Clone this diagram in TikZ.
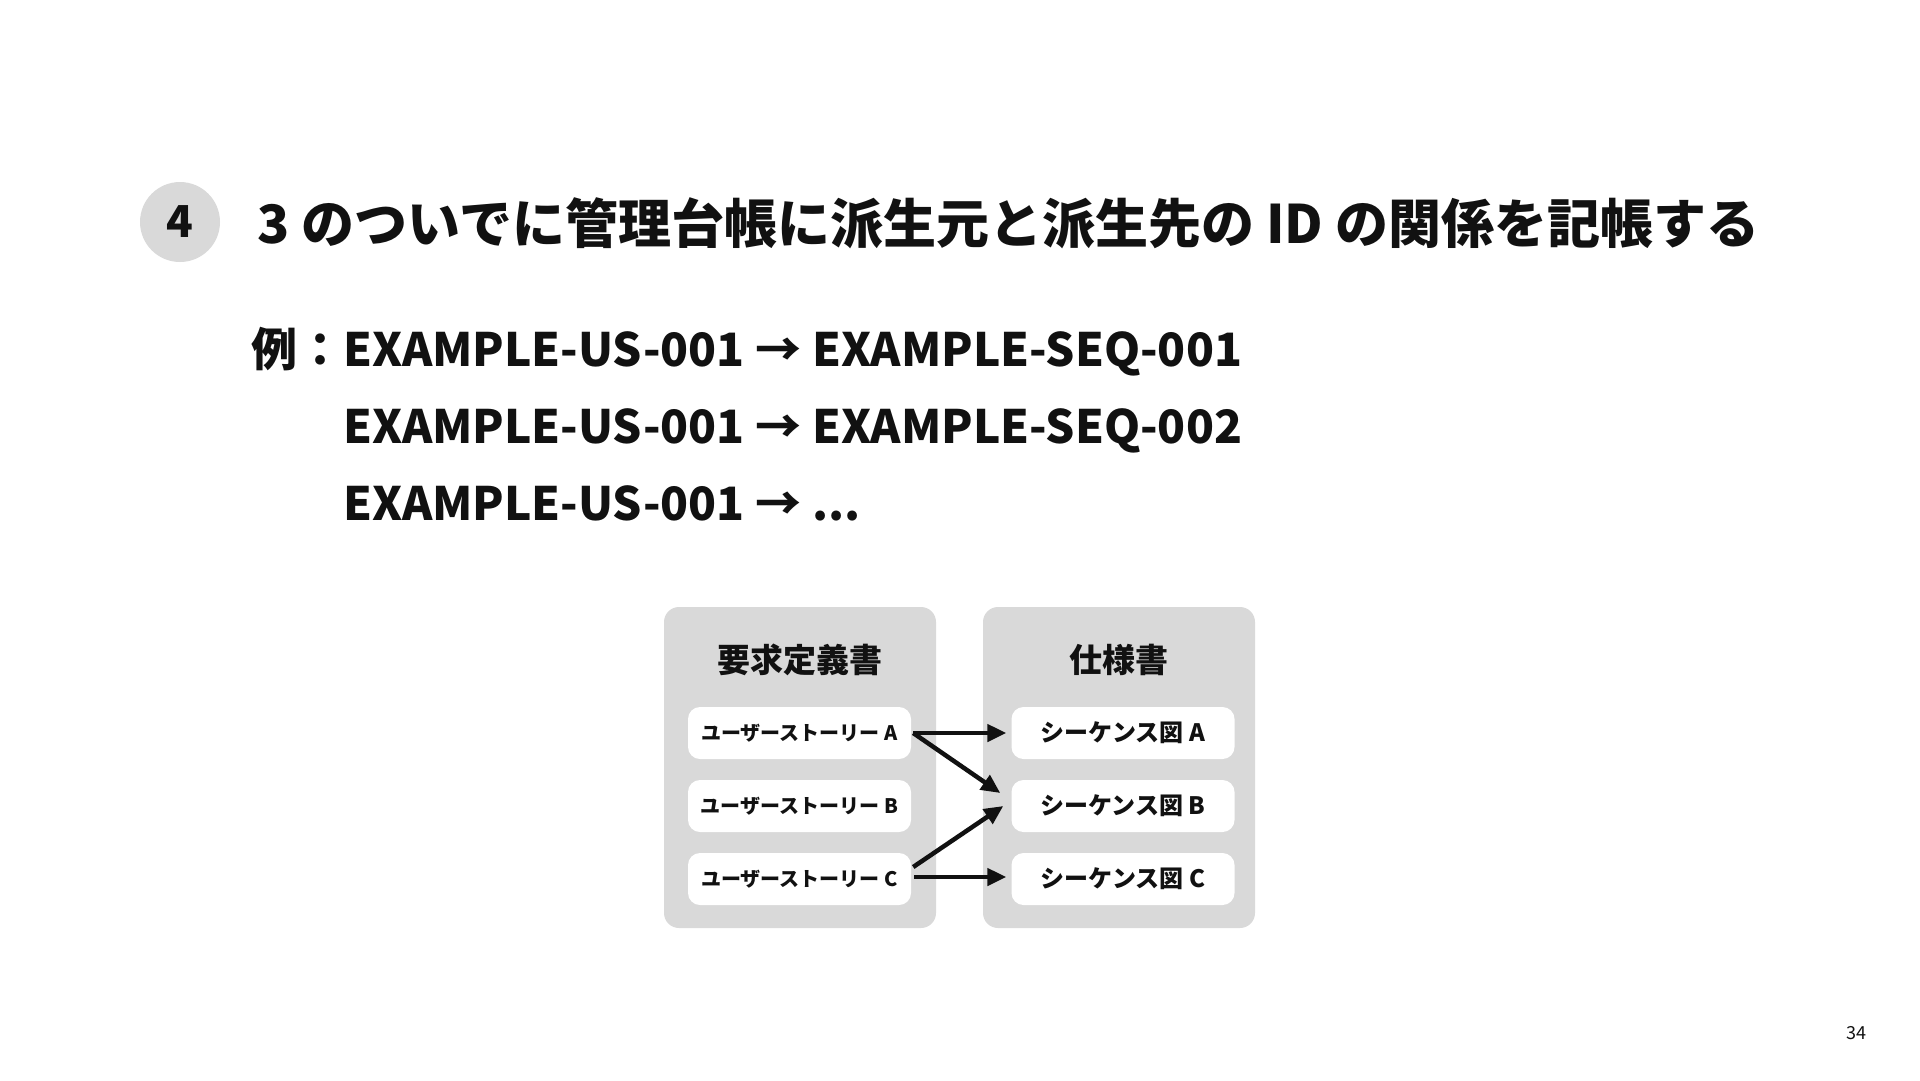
\documentclass[tikz,border=0pt]{standalone}
\usepackage{fontspec}
\setmainfont{Noto Sans CJK JP}
\usetikzlibrary{arrows.meta}
\definecolor{panelgray}{HTML}{D9D9D9}
\definecolor{ink}{HTML}{111111}

\begin{document}
\begin{tikzpicture}[x=1pt, y=-1pt,
    panel/.style={fill=panelgray, rounded corners=15pt, minimum width=272pt, minimum height=321pt, inner sep=0pt},
    head/.style={text=ink, font=\bfseries\fontsize{33}{33}\selectfont},
    item/.style={fill=white, rounded corners=12pt, minimum width=223pt, minimum height=52pt, inner sep=0pt, text=ink},
    link/.style={-{Triangle[length=19pt,width=17pt]}, line width=4.5pt, ink},
    line/.style={anchor=base west, inner sep=0pt, text=ink, font=\bfseries\fontsize{46}{46}\selectfont}]

    % Page frame
    \useasboundingbox (0,0) rectangle (1920,1080);

    % Title
    \node[circle, fill=panelgray, minimum size=80pt, inner sep=0pt, text=ink, font=\bfseries\fontsize{44}{44}\selectfont] (num) at (180,222) {4};
    \node[anchor=west, inner sep=0pt, text=ink, font=\bfseries\fontsize{53}{53}\selectfont] (title) at (257,223) {3 のついでに管理台帳に派生元と派生先の ID の関係を記帳する};

    % Examples
    \node[line] (ex) at (251,366) {例：};
    \node[line] (l1) at (343,366) {EXAMPLE-US-001 → EXAMPLE-SEQ-001};
    \node[line] (l2) at (343,443) {EXAMPLE-US-001 → EXAMPLE-SEQ-002};
    \node[line] (l3) at (343,520) {EXAMPLE-US-001 → ...};

    % Draw panels
    \node[panel] (p1) at (800,767.5) {};
    \node[panel] (p2) at (1119,767.5) {};
    \node[head] (h1) at (800,660) {要求定義書};
    \node[head] (h2) at (1119,660) {仕様書};

    % Draw items
    \node[item, font=\bfseries\fontsize{20}{20}\selectfont] (a1) at (799.5,733) {ユーザーストーリー A};
    \node[item, font=\bfseries\fontsize{20}{20}\selectfont] (a2) at (799.5,806) {ユーザーストーリー B};
    \node[item, font=\bfseries\fontsize{20}{20}\selectfont] (a3) at (799.5,879) {ユーザーストーリー C};
    \node[item, font=\bfseries\fontsize{24}{24}\selectfont] (b1) at (1123,733) {シーケンス図 A};
    \node[item, font=\bfseries\fontsize{24}{24}\selectfont] (b2) at (1123,806) {シーケンス図 B};
    \node[item, font=\bfseries\fontsize{24}{24}\selectfont] (b3) at (1123,879) {シーケンス図 C};

    % Draw connections
    \draw[link] ([xshift=2pt]a1.east) -- ([xshift=-5pt]b1.west);
    \draw[link] ([xshift=2pt]a1.east) -- ([xshift=-11pt,yshift=13pt]b2.west);
    \draw[link] ([xshift=2pt,yshift=12pt]a3.east) -- ([xshift=-8pt]b2.west);
    \draw[link] ([xshift=3pt,yshift=2pt]a3.east) -- ([xshift=-5pt,yshift=2pt]b3.west);

    % Page number
    \node[text=ink, font=\fontsize{18}{18}\selectfont] (page) at (1856,1033) {34};
\end{tikzpicture}
\end{document}
